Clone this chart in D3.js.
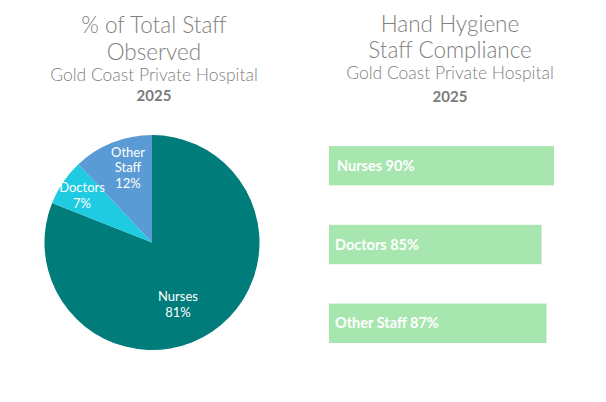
<!DOCTYPE html>
<html><head><meta charset="utf-8">
<script src="https://cdn.jsdelivr.net/npm/d3@7"></script>
<style>body{margin:0;background:#fff;}svg{display:block;}</style>
</head><body>
<svg id="c" width="606" height="402"></svg>
<script>
const pieCategories = ["Nurses", "Doctors", "Other Staff"];
const pieValues = [81, 7, 12];
const pieColors = ["#007C7A", "#1FCBE1", "#5B9BD5"];
const barCategories = ["Nurses", "Doctors", "Other Staff"];
const barValues = [90, 85, 87];
const leftTitle = ["% of Total Staff", "Observed"];
const rightTitle = ["Hand Hygiene", "Staff Compliance"];
const subtitle = "Gold Coast Private Hospital";
const year = "2025";

const svg = d3.select("#c");
const titleFont = "'Lato', 'Open Sans', sans-serif";
const bodyFont = "'Lato', 'Open Sans', sans-serif";
const grey = "#7F7F7F";

function titles(cx, lines, ys) {
  const g = svg.append("g").attr("fill", grey).attr("text-anchor", "middle");
  lines.forEach((t, i) => g.append("text").attr("x", cx).attr("y", ys[i])
    .attr("font-family", titleFont).attr("font-weight", 300).attr("font-size", 22.5).text(t));
  g.append("text").attr("x", cx).attr("y", ys[2]).attr("font-family", titleFont)
    .attr("font-weight", 300).attr("font-size", 17.5).text(subtitle);
  g.append("text").attr("x", cx).attr("y", ys[3]).attr("font-family", bodyFont)
    .attr("font-weight", "bold").attr("font-size", 15).attr("fill", "#7A7A7A").text(year);
}
titles(154, leftTitle, [33, 59.5, 81, 101]);
titles(450, rightTitle, [32, 58, 79, 102]);

// Pie
const cx = 152, cy = 242.5, r = 107.5;
const pie = d3.pie().sort(null).value(d => d)(pieValues);
const arc = d3.arc().innerRadius(0).outerRadius(r);
const pg = svg.append("g").attr("transform", `translate(${cx},${cy})`);
pg.selectAll("path").data(pie).enter().append("path")
  .attr("d", arc).attr("fill", (d, i) => pieColors[i]);

const labelPos = [[26, 62], [-70, -47], [-24, -75]];
pie.forEach((d, i) => {
  const lines = i === 2 ? ["Other", "Staff", pieValues[i] + "%"] : [pieCategories[i], pieValues[i] + "%"];
  const t = pg.append("text").attr("text-anchor", "middle").attr("fill", "#fff")
    .attr("font-family", bodyFont).attr("font-size", 13);
  const lh = 15.5;
  const y0 = labelPos[i][1] - (lines.length - 1) * lh / 2;
  lines.forEach((l, j) => t.append("tspan").attr("x", labelPos[i][0]).attr("y", y0 + j * lh)
    .attr("dy", "0.35em").text(l));
});

// Bars
const x = d3.scaleLinear().domain([0, 100]).range([329, 579]);
const y = d3.scaleBand().domain(barCategories).range([146, 343]).paddingInner(0.5).paddingOuter(0);
const bg = svg.append("g");
bg.selectAll("rect").data(barValues).enter().append("rect")
  .attr("x", x(0)).attr("y", (d, i) => y(barCategories[i]))
  .attr("width", d => x(d) - x(0)).attr("height", y.bandwidth())
  .attr("fill", "#A8E6B0");
bg.selectAll("text").data(barValues).enter().append("text")
  .attr("x", (d, i) => i === 0 ? 337 : 335)
  .attr("y", (d, i) => y(barCategories[i]) + y.bandwidth() / 2)
  .attr("dy", "0.35em").attr("fill", "#fff").attr("font-family", bodyFont)
  .attr("font-weight", "bold").attr("font-size", 14.5)
  .text((d, i) => `${barCategories[i]} ${d}%`);
</script>
</body></html>
